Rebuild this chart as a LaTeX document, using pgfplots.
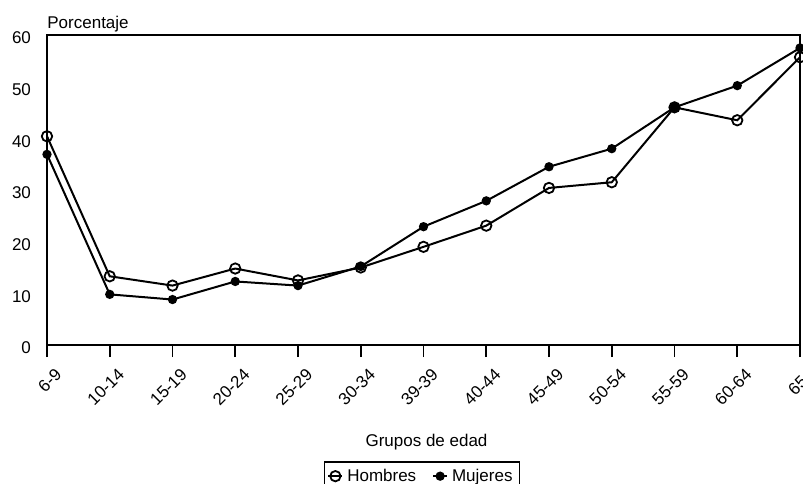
\documentclass[border=0pt]{standalone}
\usepackage{fontspec}
\setmainfont{Liberation Sans}
\usepackage{pgfplots}
\pgfplotsset{compat=1.18}
\begin{document}
\fontsize{8.5}{10}\selectfont
\begin{tikzpicture}
\begin{axis}[
    name=ax,
    scale only axis,
    width=376.5pt, height=155pt,
    xmin=0, xmax=12, ymin=0, ymax=60,
    xtick={0,...,12},
    xticklabels={6-9,10-14,15-19,20-24,25-29,30-34,39-39,40-44,45-49,50-54,55-59,60-64,65+},
    ytick={0,10,...,60},
    /pgf/number format/assume math mode=true,
    tick align=outside,
    xtick pos=bottom,
    ytick pos=left,
    major tick length=6pt,
    ytick style={draw=none},
    xtick style={line width=0.9pt, black},
    axis line style={line width=1pt},
    tick label style={font=\fontsize{8.5}{10}\selectfont},
    x tick label style={rotate=45, anchor=north east, inner sep=1pt, yshift=-5pt},
    y tick label style={xshift=1pt, yshift=-1.5pt},
    xlabel={Grupos de edad},
    xlabel style={at={(axis description cs:0.504,-0.313)}, anchor=center, font=\fontsize{8.5}{10}\selectfont},
    every axis y label/.style={at={(axis description cs:0,1)}, anchor=base west, inner sep=0pt, yshift=3.5pt, font=\fontsize{8.5}{10}\selectfont},
    ylabel={Porcentaje},
    legend columns=2,
    legend style={at={(0.498,-0.374)}, anchor=north, draw=black, line width=0.8pt,
        font=\fontsize{8.5}{10}\selectfont, inner sep=1.5pt,
        /tikz/every even column/.append style={column sep=6pt}},
    legend image code/.code={\draw[#1, line width=0.9pt] (0pt,0pt) -- (7pt,0pt); \draw[#1, mark repeat=1] plot coordinates {(3.5pt,0pt)};},
]
\addplot[black, line width=1pt, mark=o, mark size=2.6pt, mark options={fill=white, line width=0.9pt}] coordinates {
    (0,40.4) (1,13.3) (2,11.5) (3,14.8) (4,12.5) (5,15.0) (6,19.0)
    (7,23.1) (8,30.4) (9,31.5) (10,46.0) (11,43.5) (12,55.7)
};
\addlegendentry{Hombres}
\addplot[black, line width=1pt, mark=*, mark size=1.8pt] coordinates {
    (0,36.9) (1,9.8) (2,8.8) (3,12.3) (4,11.5) (5,15.2) (6,22.9)
    (7,27.9) (8,34.5) (9,38.0) (10,46.0) (11,50.2) (12,57.5)
};
\addlegendentry{Mujeres}
\end{axis}
\pgfresetboundingbox
\path[use as bounding box] ([xshift=-23.5pt,yshift=-69pt]ax.south west) rectangle ([xshift=1.5pt,yshift=17.5pt]ax.north east);
\end{tikzpicture}
\end{document}
